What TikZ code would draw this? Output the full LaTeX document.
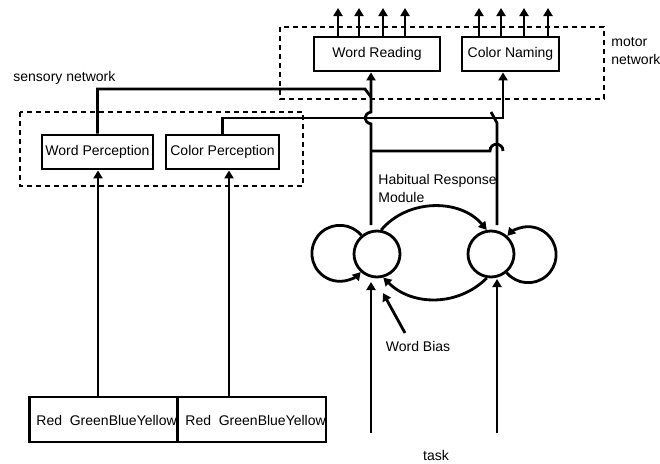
\documentclass[tikz,border=0pt]{standalone}
\usepackage{fontspec}
\setmainfont{Liberation Sans}
\usetikzlibrary{arrows.meta,calc}
\begin{document}
\begin{tikzpicture}[x=1pt,y=-1pt,line width=2.8pt,
  font=\fontsize{14}{18}\selectfont,
  box/.style={draw,minimum height=34pt,inner sep=0pt},
  inbox/.style={draw,minimum height=45pt,minimum width=148pt,inner sep=0pt},
  dbox/.style={draw,dash pattern=on 5pt off 4pt},
  arr/.style={-{Triangle[length=8pt,width=9pt]}},
  unit/.style={draw,circle,minimum size=46pt,inner sep=0pt},
  lbl/.style={inner sep=0pt,align=left}]
\useasboundingbox (0,0) rectangle (660,463);

% dashed groups
\draw[dbox] (280,27) rectangle (604,99);
\draw[dbox] (20,112) rectangle (303,186);

% boxes
\node[box,minimum width=126pt] (WR) at (377,54) {Word Reading};
\node[box,minimum width=97pt] (CN) at (510.5,54) {Color Naming};
\node[box,minimum width=111pt] (WP) at (97.5,152) {Word Perception};
\node[box,minimum width=113pt] (CP) at (222.5,152) {Color Perception};
\node[inbox] (B1) at (103.5,419.5) {};
\node[inbox] (B2) at (252,419.5) {};
\node[lbl,anchor=west] (B1t) at (35,420) {Red\ \ GreenBlueYellow};
\node[lbl,anchor=west] (B2t) at (184,420) {Red\ \ GreenBlueYellow};

% labels
\node[lbl,anchor=west] (sens) at (12,78) {sensory network};
\node[lbl,anchor=north west] (mot) at (610,36) {motor\\network};
\node[lbl,anchor=north west] (hab) at (377,173) {Habitual Response\\Module};
\node[lbl] (wb) at (418,346) {Word Bias};
\node[lbl] (task) at (436,455) {task};

% units
\node[unit] (L) at (377,254) {};
\node[unit] (R) at (491,254) {};

% output arrows
\foreach \x [count=\i] in {338,359,383,405} {
  \coordinate (wo\i) at (\x,8);
  \draw[arr] (\x,0 |- WR.north) -- (wo\i);
}
\foreach \x [count=\i] in {479,501,524,548} {
  \coordinate (co\i) at (\x,8);
  \draw[arr] (\x,0 |- CN.north) -- (co\i);
}

% sensory inputs
\draw[arr] (98,0 |- B1.north) -- (98,0 |- WP.south);
\draw[arr] (229,0 |- B2.north) -- (229,0 |- CP.south);

% wiring
\coordinate (Lo) at (371,225);
\coordinate (Ro) at (497,225);
\coordinate (ja) at (371,97);
\coordinate (jb) at (491,112);
\coordinate (jc) at (371,151);
\coordinate (hopend) at (503,151);
\draw (WP.north) |- (365,89) -- (ja);
\draw[arr] (Lo) -- (371,124) .. controls (363,122) and (363,114) .. (371,112) -- (371,0 |- WR.south);
\draw[arr] (CP.north) |- (503,118) -- (503,0 |- CN.south);
\draw (Ro) -- (497,123) -- (jb);
\draw (jc) -- (490,151) .. controls (490,142) and (503,142) .. (hopend);

% recurrent connections
\draw[arr] (L.130) arc[start angle=40,end angle=318,radius=28pt];
\draw[arr] (R.310) arc[start angle=-140,end angle=138,radius=28pt];
\draw[arr] (L.80) to[out=50,in=130] (R.100);
\draw[arr] (R.260) to[out=-135,in=-45] (L.285);

% task inputs
\coordinate (t1) at (371,433);
\coordinate (t2) at (497,433);
\coordinate (t1e) at (371,282);
\coordinate (t2e) at (497,279);
\draw[arr] (t1) -- (t1e);
\draw[arr] (t2) -- (t2e);

% word bias
\coordinate (wbtip) at (383,293);
\draw[arr] (405,333) -- (wbtip);
\end{tikzpicture}
\end{document}
